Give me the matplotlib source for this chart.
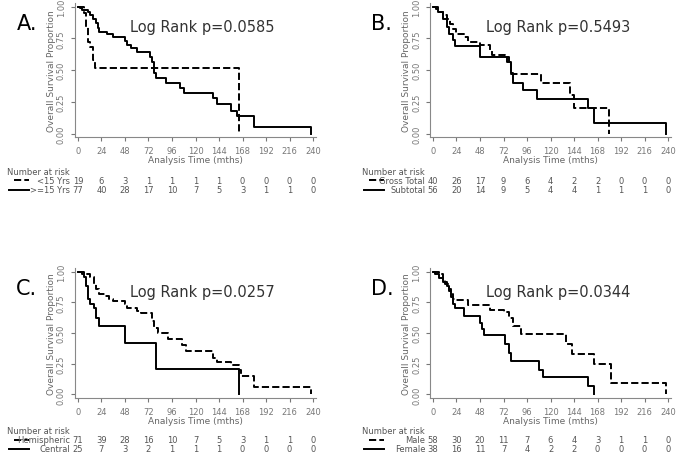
import matplotlib.pyplot as plt
import matplotlib.transforms as mtransforms
import numpy as np


def dibujar_panel(fig, rect, letra, pval, curvas, riesgo, etiquetas):
    ax = fig.add_axes(rect)
    estilos = ["--", "-"]
    for i, (t, s) in enumerate(curvas):
        ax.step(t, s, where="post", color="black", linestyle=estilos[i], linewidth=1.4)

    ax.set_xlim(-3, 243)
    ax.set_ylim(-0.03, 1.03)
    ax.set_xticks(np.arange(0, 241, 24))
    ax.set_yticks([0, 0.25, 0.5, 0.75, 1.0])
    ax.set_yticklabels(["0.00", "0.25", "0.50", "0.75", "1.00"], rotation=90, va="center")
    ax.tick_params(labelsize=6, colors="#777777", length=3)
    for lado in ["top", "right"]:
        ax.spines[lado].set_visible(False)
    for lado in ["left", "bottom"]:
        ax.spines[lado].set_color("#888888")
    ax.set_xlabel("Analysis Time (mths)", fontsize=6.5, color="#666666", labelpad=0)
    ax.set_ylabel("Overall Survival Proportion", fontsize=6.5, color="#666666", labelpad=1)

    ax.text(-0.2, 0.85, letra, transform=ax.transAxes, fontsize=15, ha="center", va="center")
    ax.text(0.53, 0.82, f"Log Rank p={pval}", transform=ax.transAxes, fontsize=10.5,
            ha="center", va="center", color="#333333")

    # tabla de numero en riesgo
    trans = mtransforms.blended_transform_factory(ax.transData, ax.transAxes)
    ax.text(-8, -0.25, "Number at risk", transform=trans, fontsize=6, ha="right",
            va="center", color="#555555", clip_on=False)
    filas = [-0.32, -0.39]
    for i, (fila, y) in enumerate(zip(riesgo, filas)):
        ax.text(-8, y, etiquetas[i], transform=trans, fontsize=6, ha="right",
                va="center", color="#555555", clip_on=False)
        ax.plot([-65 if i == 0 else -70, -50], [y, y], transform=trans, color="black",
                linestyle=estilos[i], linewidth=1.4, clip_on=False)
        for x, n in zip(range(0, 241, 24), fila):
            ax.text(x, y, str(n), transform=trans, fontsize=6, ha="center",
                    va="center", color="#555555", clip_on=False)
    return ax


def generar_graficos():
    fig = plt.figure(figsize=(6.8, 4.56), dpi=100)

    # A. edad
    a_menor = ([0, 6, 8, 10, 12, 15, 17, 164, 164], [1, .95, .84, .72, .68, .58, .52, 0, 0])
    a_mayor = ([0, 2, 4, 10, 12, 15, 18, 20, 22, 30, 36, 48, 50, 54, 60, 74, 76, 78, 80, 90,
                104, 108, 138, 142, 156, 162, 180, 238, 238],
               [1, .99, .97, .96, .93, .9, .87, .83, .8, .78, .76, .73, .70, .67, .64, .6, .56,
                .48, .44, .4, .36, .32, .28, .23, .18, .14, .05, 0, 0])
    dibujar_panel(fig, [0.1103, 0.6965, 0.3544, 0.2953], "A.", "0.0585", [a_menor, a_mayor],
                  [[19, 6, 3, 1, 1, 1, 1, 0, 0, 0, 0], [77, 40, 28, 17, 10, 7, 5, 3, 1, 1, 0]],
                  ["<15 Yrs", ">=15 Yrs"])

    # B. reseccion
    b_total = ([0, 3, 6, 10, 14, 17, 20, 24, 32, 36, 48, 58, 60, 74, 78, 80, 110, 140, 144, 180, 180],
               [1, .98, .96, .93, .9, .86, .82, .78, .76, .72, .70, .66, .62, .6, .55, .47, .4, .3,
                .2, 0, 0])
    b_sub = ([0, 5, 10, 14, 16, 20, 22, 48, 76, 80, 82, 92, 106, 158, 164, 238, 238],
             [1, .96, .9, .84, .78, .74, .69, .6, .56, .48, .4, .34, .27, .2, .08, 0, 0])
    dibujar_panel(fig, [0.6324, 0.6965, 0.3544, 0.2953], "B.", "0.5493", [b_total, b_sub],
                  [[40, 26, 17, 9, 6, 4, 2, 2, 0, 0, 0], [56, 20, 14, 9, 5, 4, 4, 1, 1, 1, 0]],
                  ["Gross Total", "Subtotal"])

    # C. localizacion
    c_hemi = ([0, 4, 12, 16, 18, 22, 28, 32, 36, 48, 50, 60, 64, 76, 78, 82, 92, 106, 110, 138,
               142, 156, 164, 166, 180, 238, 238],
              [1, .98, .96, .9, .86, .82, .8, .78, .76, .74, .7, .68, .66, .6, .54, .5, .45, .4,
               .35, .3, .26, .24, .2, .15, .06, 0, 0])
    c_central = ([0, 6, 8, 10, 12, 16, 18, 22, 48, 80, 164, 164],
                 [1, .96, .88, .78, .74, .7, .62, .56, .42, .21, 0, 0])
    dibujar_panel(fig, [0.1103, 0.125, 0.3544, 0.285], "C.", "0.0257", [c_hemi, c_central],
                  [[71, 39, 28, 16, 10, 7, 5, 3, 1, 1, 0], [25, 7, 3, 2, 1, 1, 1, 0, 0, 0, 0]],
                  ["Hemispheric", "Central"])

    # D. sexo
    d_male = ([0, 6, 10, 12, 16, 18, 20, 24, 36, 58, 72, 78, 82, 90, 136, 142, 164, 182, 238, 238],
              [1, .98, .94, .9, .86, .82, .78, .77, .73, .69, .67, .62, .56, .49, .41, .33, .25,
               .09, 0, 0])
    d_female = ([0, 2, 6, 10, 14, 16, 18, 20, 22, 32, 48, 50, 52, 74, 78, 80, 108, 112, 158, 164, 164],
                [1, .98, .95, .92, .88, .84, .79, .74, .7, .64, .58, .53, .48, .41, .34, .27, .2,
                 .14, .07, 0, 0])
    dibujar_panel(fig, [0.6324, 0.125, 0.3544, 0.285], "D.", "0.0344", [d_male, d_female],
                  [[58, 30, 20, 11, 7, 6, 4, 3, 1, 1, 0], [38, 16, 11, 7, 4, 2, 2, 0, 0, 0, 0]],
                  ["Male", "Female"])

    plt.savefig("out.png")
    plt.close()


if __name__ == "__main__":
    generar_graficos()
